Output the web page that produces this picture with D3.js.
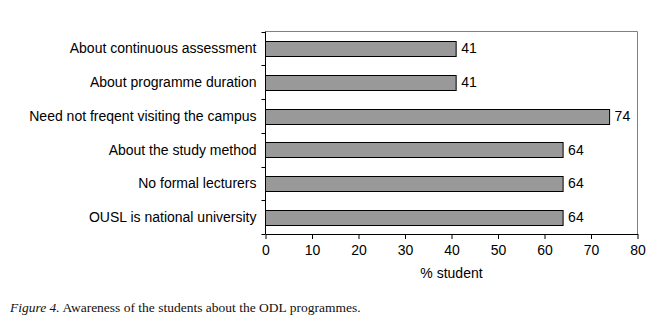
<!DOCTYPE html>
<html><head><meta charset="utf-8">
<script src="https://cdn.jsdelivr.net/npm/d3@7"></script>
<style>body{margin:0;background:#fff}svg{display:block}</style>
</head><body>
<svg id="c" width="666" height="335"></svg>
<script>
const categories = ["About continuous assessment","About programme duration","Need not freqent visiting the campus","About the study method","No formal lecturers","OUSL is national university"];
const values = [41,41,74,64,64,64];
const xTicks = [0,10,20,30,40,50,60,70,80];
const xTitle = "% student";
const captionItalic = "Figure 4.";
const captionRest = " Awareness of the students about the ODL programmes.";

const svg = d3.select("#c");
const L = 265.5, R = 637.5, T = 31.5, B = 234;
const font = "'Liberation Sans', Arial, sans-serif";
const fs = 14;
const x = d3.scaleLinear().domain([0,80]).range([L,R]);
const y = d3.scaleBand().domain(categories).range([T,B]).paddingInner(0.57).paddingOuter(0.285);
const yb = d3.scaleBand().domain(categories).range([T,B]);

// frame top/right gray
svg.append("path").attr("d",`M${L},${T}H${R}V${B}`).attr("fill","none").attr("stroke","#808080").attr("stroke-width",1);

// bars
svg.selectAll("rect.bar").data(categories).join("rect")
  .attr("x",x(0)).attr("y",d=>Math.round(y(d))+0.5)
  .attr("width",(d,i)=>x(values[i])-x(0)).attr("height",Math.round(y.bandwidth()))
  .attr("fill","#999999").attr("stroke","#000").attr("stroke-width",1);

// value labels
svg.selectAll("text.val").data(categories).join("text")
  .attr("x",(d,i)=>x(values[i])+5).attr("y",d=>y(d)+y.bandwidth()/2)
  .attr("dy","0.36em").attr("font-family",font).attr("font-size",fs).attr("fill","#000")
  .text((d,i)=>values[i]);

// y axis
const yAxisG = svg.append("g");
yAxisG.append("line").attr("x1",L).attr("x2",L).attr("y1",T).attr("y2",B).attr("stroke","#000");
const bounds = categories.map(d=>yb(d)).concat([B]);
yAxisG.selectAll("line.t").data(bounds).join("line")
  .attr("x1",L-4).attr("x2",L).attr("y1",d=>Math.round(d)+0.5).attr("y2",d=>Math.round(d)+0.5).attr("stroke","#000");
yAxisG.selectAll("text").data(categories).join("text")
  .attr("x",L-9).attr("y",d=>y(d)+y.bandwidth()/2).attr("dy","0.36em")
  .attr("text-anchor","end").attr("font-family",font).attr("font-size",fs).attr("fill","#000").text(d=>d);

// x axis
const xa = svg.append("g").attr("transform",`translate(0,${B})`)
  .call(d3.axisBottom(x).tickValues(xTicks).tickSize(5).tickSizeOuter(0).tickPadding(6));
xa.select(".domain").attr("stroke","#000");
xa.selectAll(".tick line").attr("stroke","#000");
xa.selectAll(".tick text").attr("font-family",font).attr("font-size",fs).attr("fill","#000");

svg.append("text").attr("x",(L+R)/2).attr("y",278).attr("text-anchor","middle")
  .attr("font-family",font).attr("font-size",fs).attr("fill","#000").text(xTitle);

// caption
const cap = svg.append("text").attr("x",10).attr("y",312).attr("font-family","'Liberation Serif','DejaVu Serif',serif").attr("font-size",13.5).attr("fill","#111");
cap.append("tspan").attr("font-style","italic").text(captionItalic);
cap.append("tspan").text(captionRest);
</script>
</body></html>
